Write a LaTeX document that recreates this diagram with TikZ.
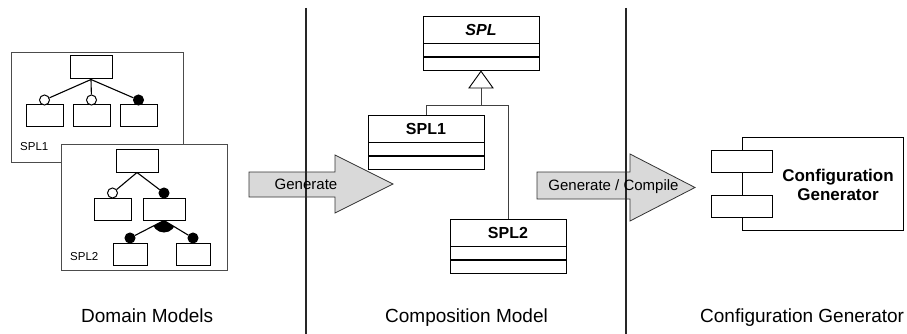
\documentclass[tikz,border=0pt]{standalone}
\usepackage{fontspec}
\setmainfont{Liberation Sans}
\begin{document}
\begin{tikzpicture}[x=1pt,y=-1pt]
\tikzset{
 frame/.style={draw=black!70, line width=0.8pt, fill=white, inner sep=0pt},
 feat/.style={draw=black, line width=1pt, fill=white, inner sep=0pt, minimum width=37pt, minimum height=22pt},
 link/.style={line width=1.1pt},
 opt/.style={circle, draw, line width=1pt, fill=white, inner sep=0pt, minimum size=10pt},
 mand/.style={opt, fill=black},
 small/.style={font=\fontsize{11.5}{13}\selectfont},
 umlname/.style={draw, line width=0.9pt, fill=white, inner sep=0pt, minimum width=116pt, minimum height=27pt, font=\bfseries\fontsize{16}{18}\selectfont},
 umlpart/.style={draw, line width=0.9pt, fill=white, inner sep=0pt, minimum width=116pt, minimum height=13pt},
 gen/.style={draw=black!80, line width=0.8pt, fill=black!15},
 inherit/.style={draw=black!75, line width=0.7pt},
 sepline/.style={draw=black!85, line width=1.1pt},
 genlabel/.style={font=\fontsize{15}{17}\selectfont, inner sep=0pt},
 bottomlabel/.style={font=\fontsize{19}{22}\selectfont, anchor=base west, inner sep=0pt},
}
\useasboundingbox (0,0) rectangle (907,334);
\fill[white] (0,0) rectangle (907,334);

% ---------- Domain models ----------
\node[frame, minimum width=172pt, minimum height=110pt] (f1) at (97,107) {};
\node[feat, minimum width=42pt, minimum height=23pt] (a1) at (91,67.5) {};
\node[feat] (b1) at (44.5,116) {};
\node[feat] (b2) at (91.5,116) {};
\node[feat] (b3) at (138.5,116) {};
\node[opt] (o1) at (44.5,100) {};
\node[opt] (o2) at (91.5,100) {};
\node[mand] (m3) at (138.5,100) {};
\draw[link] (a1.south) -- (o1);
\draw[link] (a1.south) -- (o2);
\draw[link] (a1.south) -- (m3);
\node[small, anchor=base west, inner sep=0pt] (l1) at (20,150) {SPL1};

\node[frame, minimum width=166pt, minimum height=126pt] (f2) at (144,207) {};
\node[feat, minimum width=42pt, minimum height=23pt] (a2) at (137,160.5) {};
\node[feat] (c1) at (112.5,209) {};
\node[feat, minimum width=42pt] (c2) at (164,209) {};
\node[opt] (o4) at (112.5,193) {};
\node[mand] (m5) at (164,193) {};
\draw[link] (a2.south) -- (o4);
\draw[link] (a2.south) -- (m5);
\node[feat, minimum width=34pt] (g1) at (130,254) {};
\node[feat, minimum width=34pt] (g2) at (193,254) {};
\node[mand] (m6) at (130,238) {};
\node[mand] (m7) at (193,238) {};
\draw[link] (c2.south) -- (m6);
\draw[link] (c2.south) -- (m7);
\begin{scope}
 \clip (c2.south) -- (m6.center) -- (m7.center) -- cycle;
 \fill (c2.south) circle[radius=12pt];
\end{scope}
\node[small, anchor=base west, inner sep=0pt] (l2) at (70,260) {SPL2};

% ---------- arrows ----------
\draw[gen] (249,172) -- (335,172) -- (335,155) -- (393,184) -- (335,213) -- (335,197) -- (249,197) -- cycle;
\draw[gen] (537,172) -- (630,172) -- (630,154) -- (695,187.5) -- (630,221) -- (630,199) -- (537,199) -- cycle;

% ---------- separators ----------
\coordinate (s1t) at (306,8);
\coordinate (s1b) at (306,334);
\coordinate (s2t) at (626,8);
\coordinate (s2b) at (626,334);
\draw[sepline] (s1t) -- (s1b);
\draw[sepline] (s2t) -- (s2b);

\node[genlabel] (gl1) at (306,184) {Generate};
\node[genlabel] (gl2) at (613.5,187) {Generate / Compile};

% ---------- composition model ----------
\node[umlname, font=\bfseries\itshape\fontsize{16}{18}\selectfont] (spl) at (481,29.5) {SPL};
\node[umlpart, anchor=north] (spla) at (spl.south) {};
\node[umlpart, anchor=north] (splo) at (spla.south) {};

\node[umlname] (spl1) at (426,128.5) {SPL1};
\node[umlpart, anchor=north] (spl1a) at (spl1.south) {};
\node[umlpart, anchor=north] (spl1o) at (spl1a.south) {};

\node[umlname] (spl2) at (508,232.5) {SPL2};
\node[umlpart, anchor=north] (spl2a) at (spl2.south) {};
\node[umlpart, anchor=north] (spl2o) at (spl2a.south) {};

\coordinate (tri) at (481,88);
\coordinate (hub) at (481,105);
\draw[line width=0.9pt, fill=white] (splo.south) -- (469,88) -- (493,88) -- cycle;
\draw[inherit] (tri) -- (hub);
\draw[inherit] (hub) -| (spl1.north);
\draw[inherit] (hub) -| (spl2.north);

% ---------- configuration generator ----------
\node[draw, line width=0.9pt, inner sep=0pt, minimum width=161pt, minimum height=93pt] (comp) at (822.5,183.5) {};
\node[draw, line width=0.9pt, fill=white, inner sep=0pt, minimum width=61pt, minimum height=22pt] (port1) at (741.5,161) {};
\node[draw, line width=0.9pt, fill=white, inner sep=0pt, minimum width=61pt, minimum height=22pt] (port2) at (741.5,206) {};
\node[font=\bfseries\fontsize{17}{19.5}\selectfont, align=center, inner sep=0pt] (cgt) at (838,185) {Configuration\\Generator};

% ---------- bottom labels ----------
\node[bottomlabel] (t1) at (81,322) {Domain Models};
\node[bottomlabel] (t2) at (385,322) {Composition Model};
\node[bottomlabel] (t3) at (700,322) {Configuration Generator};
\end{tikzpicture}
\end{document}
